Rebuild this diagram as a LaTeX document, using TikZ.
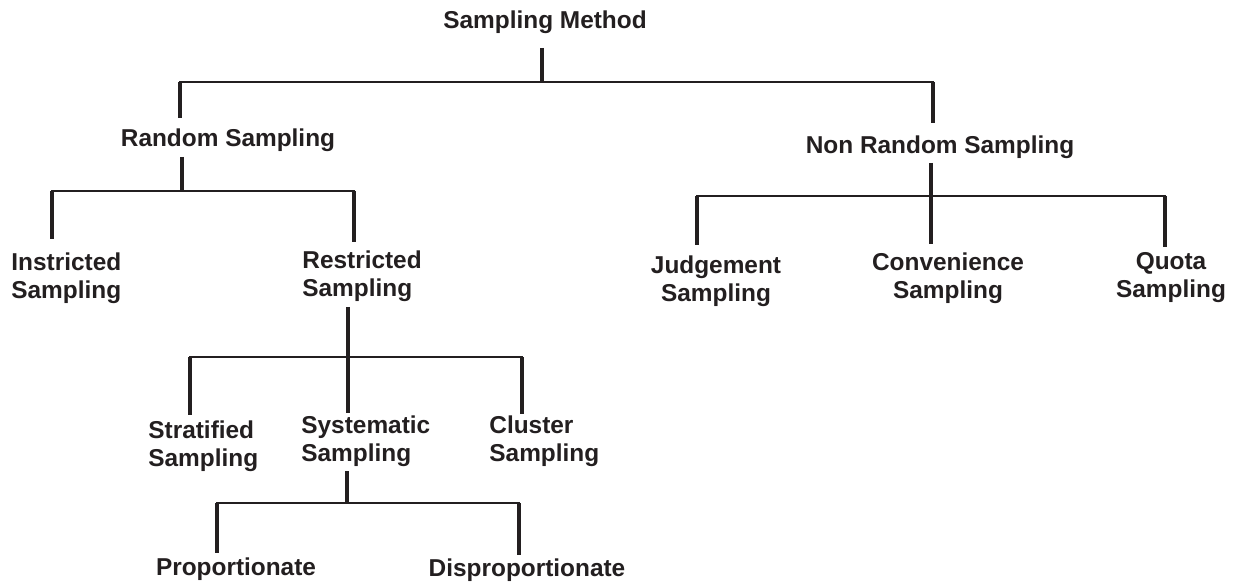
\documentclass[tikz,border=0pt]{standalone}
\usepackage{fontspec}
\setmainfont{Liberation Sans}
\definecolor{ink}{HTML}{231F20}
\begin{document}
\begin{tikzpicture}[x=0.5pt,y=-0.5pt,
  lbl/.style={inner sep=0pt,text=ink,font=\fontsize{12.2}{14}\selectfont\bfseries},
  stem/.style={ink,line width=1.6pt},
  bar/.style={ink,line width=1pt,line cap=rect}]
  \useasboundingbox[fill=white] (0,0) rectangle (1235,582);
  % labels
  \node[lbl,anchor=north] (method) at (545,10) {Sampling Method};
  \node[lbl,anchor=north] (random) at (228,128) {Random Sampling};
  \node[lbl,anchor=north] (nonrandom) at (940,135) {Non Random Sampling};
  \node[lbl,anchor=north west,align=left] (instricted) at (11,252) {Instricted\\Sampling};
  \node[lbl,anchor=north west,align=left] (restricted) at (302,250) {Restricted\\Sampling};
  \node[lbl,anchor=north,align=center] (judgement) at (716,255) {Judgement\\Sampling};
  \node[lbl,anchor=north,align=center] (convenience) at (948,252) {Convenience\\Sampling};
  \node[lbl,anchor=north,align=center] (quota) at (1171,252) {Quota\\Sampling};
  \node[lbl,anchor=north west,align=left] (stratified) at (148,420) {Stratified\\Sampling};
  \node[lbl,anchor=north west,align=left] (systematic) at (301,415) {Systematic\\Sampling};
  \node[lbl,anchor=north west,align=left] (cluster) at (489,415) {Cluster\\Sampling};
  \node[lbl,anchor=north] (proportionate) at (236,557) {Proportionate};
  \node[lbl,anchor=north] (disproportionate) at (527,558) {Disproportionate};
  % stem ends under each parent, drop ends above each child
  \coordinate (method-out) at (542,48); \coordinate (method-bar) at (542,82);
  \coordinate (random-in) at (180,118); \coordinate (nonrandom-in) at (933,123);
  \coordinate (random-out) at (182,157); \coordinate (random-bar) at (182,191);
  \coordinate (instricted-in) at (52,239); \coordinate (restricted-in) at (354,242);
  \coordinate (nonrandom-out) at (931,163); \coordinate (nonrandom-bar) at (931,196);
  \coordinate (judgement-in) at (697,245); \coordinate (convenience-in) at (931,244); \coordinate (quota-in) at (1165,247);
  \coordinate (restricted-out) at (348,307); \coordinate (restricted-bar) at (348,357);
  \coordinate (stratified-in) at (190,415); \coordinate (systematic-in) at (348,413); \coordinate (cluster-in) at (522,414);
  \coordinate (systematic-out) at (347,471); \coordinate (systematic-bar) at (347,503);
  \coordinate (proportionate-in) at (217,553); \coordinate (disproportionate-in) at (519,555);
  % sampling method
  \draw[stem] (method-out) -- (method-bar);
  \draw[bar] (random-in |- method-bar) -- (nonrandom-in |- method-bar);
  \draw[stem] (random-in |- method-bar) -- (random-in); \draw[stem] (nonrandom-in |- method-bar) -- (nonrandom-in);
  % random sampling
  \draw[stem] (random-out) -- (random-bar);
  \draw[bar] (instricted-in |- random-bar) -- (restricted-in |- random-bar);
  \draw[stem] (instricted-in |- random-bar) -- (instricted-in); \draw[stem] (restricted-in |- random-bar) -- (restricted-in);
  % non random sampling
  \draw[bar] (judgement-in |- nonrandom-bar) -- (quota-in |- nonrandom-bar);
  \draw[stem] (nonrandom-out) -- (convenience-in);
  \draw[stem] (judgement-in |- nonrandom-bar) -- (judgement-in); \draw[stem] (quota-in |- nonrandom-bar) -- (quota-in);
  % restricted sampling
  \draw[bar] (stratified-in |- restricted-bar) -- (cluster-in |- restricted-bar);
  \draw[stem] (restricted-out) -- (systematic-in);
  \draw[stem] (stratified-in |- restricted-bar) -- (stratified-in); \draw[stem] (cluster-in |- restricted-bar) -- (cluster-in);
  % systematic sampling
  \draw[stem] (systematic-out) -- (systematic-bar);
  \draw[bar] (proportionate-in |- systematic-bar) -- (disproportionate-in |- systematic-bar);
  \draw[stem] (proportionate-in |- systematic-bar) -- (proportionate-in); \draw[stem] (disproportionate-in |- systematic-bar) -- (disproportionate-in);
\end{tikzpicture}
\end{document}
